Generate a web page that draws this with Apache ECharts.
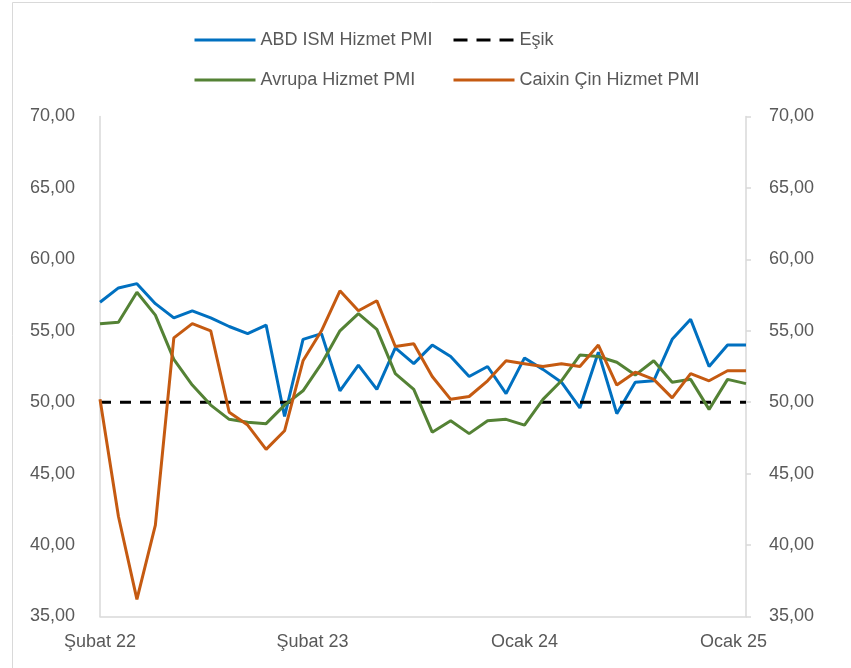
<!DOCTYPE html>
<html>
<head>
<meta charset="utf-8">
<script src="https://cdn.jsdelivr.net/npm/echarts@6/dist/echarts.min.js"></script>
<style>
html,body{margin:0;padding:0;background:#fff;}
#c{width:851px;height:668px;}
</style>
</head>
<body>
<div id="c"></div>
<script>
var categories = ['Şubat 22','Mart 22','Nisan 22','Mayıs 22','Haziran 22','Temmuz 22','Ağustos 22','Eylül 22','Ekim 22','Kasım 22','Aralık 22',
  'Ocak 23','Şubat 23','Mart 23','Nisan 23','Mayıs 23','Haziran 23','Temmuz 23','Ağustos 23','Eylül 23','Ekim 23','Kasım 23','Aralık 23',
  'Ocak 24','Şubat 24','Mart 24','Nisan 24','Mayıs 24','Haziran 24','Temmuz 24','Ağustos 24','Eylül 24','Ekim 24','Kasım 24','Aralık 24','Ocak 25'];
var shownLabels = ['Şubat 22','Şubat 23','Ocak 24','Ocak 25'];
var usIsm = [57.0,58.0,58.3,56.9,55.9,56.4,55.9,55.3,54.8,55.4,49.0,54.4,54.8,50.8,52.6,50.9,53.8,52.7,54.0,53.2,51.8,52.5,50.6,53.1,52.3,51.4,49.6,53.5,49.2,51.4,51.5,54.4,55.8,52.5,54.0,54.0];
var threshold = [50,50,50,50,50,50,50,50,50,50,50,50,50,50,50,50,50,50,50,50,50,50,50,50,50,50,50,50,50,50,50,50,50,50,50,50];
var euro = [55.5,55.6,57.7,56.1,53.0,51.2,49.8,48.8,48.6,48.5,49.8,50.8,52.7,55.0,56.2,55.1,52.0,50.9,47.9,48.7,47.8,48.7,48.8,48.4,50.2,51.5,53.3,53.2,52.8,51.9,52.9,51.4,51.6,49.5,51.6,51.3];
var caixin = [50.2,42.0,36.2,41.4,54.5,55.5,55.0,49.3,48.4,46.7,48.0,52.9,55.0,57.8,56.4,57.1,53.9,54.1,51.8,50.2,50.4,51.5,52.9,52.7,52.5,52.7,52.5,54.0,51.2,52.1,51.6,50.3,52.0,51.5,52.2,52.2];
var names = ['ABD ISM Hizmet PMI','Eşik','Avrupa Hizmet PMI','Caixin Çin Hizmet PMI'];

var FONT = '"Liberation Sans", Arial, sans-serif';
var TXT = '#595959';
var AX = '#D9D9D9';

function fmt(v){ return v.toFixed(2).replace('.', ','); }

function legendAt(name, left, top, dash){
  return {
    data:[name], left:left, top:top, itemWidth:61, itemHeight:14, itemGap:0,
    itemStyle:{opacity:0},
    lineStyle:dash ? {width:3, type:dash} : {width:3},
    textStyle:{fontFamily:FONT, fontSize:18, color:TXT}
  };
}

var chart = echarts.init(document.getElementById('c'), null, {renderer:'canvas'});
chart.setOption({
  animation:false,
  backgroundColor:'#fff',
  graphic:[
    {type:'line', shape:{x1:12.5,y1:2.5,x2:851,y2:2.5}, style:{stroke:AX, lineWidth:1}},
    {type:'line', shape:{x1:12.5,y1:2.5,x2:12.5,y2:668}, style:{stroke:AX, lineWidth:1}}
  ],
  legend:[
    legendAt(names[0],188,26),
    legendAt(names[1],447,26,[14,9]),
    legendAt(names[2],188,66),
    legendAt(names[3],447,66)
  ],
  grid:{left:100, right:105, top:116.5, bottom:51.5, containLabel:false},
  xAxis:{
    type:'category', data:categories, boundaryGap:false,
    axisLine:{show:true, lineStyle:{color:AX, width:1.5}},
    axisTick:{show:false},
    splitLine:{show:false},
    axisLabel:{
      margin:17, fontFamily:FONT, fontSize:18, color:TXT,
      interval:function(i, v){ return shownLabels.indexOf(v) >= 0; },
      formatter:function(v, i){
        if (i === 12) return '{a|' + v + '}';
        if (i === categories.length - 1) return '{b|' + v + '}';
        return v;
      },
      rich:{
        a:{fontFamily:FONT, fontSize:18, color:TXT, padding:[0,18,0,0]},
        b:{fontFamily:FONT, fontSize:18, color:TXT, padding:[0,25,0,0]}
      }
    }
  },
  yAxis:[
    {
      type:'value', position:'left', min:35, max:70, interval:5,
      axisLine:{show:true, lineStyle:{color:AX, width:1.5}},
      axisTick:{show:false},
      splitLine:{show:false},
      axisLabel:{margin:25, fontFamily:FONT, fontSize:18, color:TXT, formatter:fmt}
    },
    {
      type:'value', position:'right', min:35, max:70, interval:5,
      axisLine:{show:true, lineStyle:{color:AX, width:1.5}},
      axisTick:{show:true, inside:false, length:5, lineStyle:{color:AX, width:1.5}},
      splitLine:{show:false},
      axisLabel:{margin:23, fontFamily:FONT, fontSize:18, color:TXT, formatter:fmt}
    }
  ],
  series:[
    {name:names[0], type:'line', data:usIsm, symbol:'none', color:'#0070C0', lineStyle:{color:'#0070C0', width:3}},
    {name:names[1], type:'line', data:threshold, symbol:'none', color:'#000000', lineStyle:{color:'#000000', width:3, type:[11,9]}},
    {name:names[2], type:'line', data:euro, symbol:'none', color:'#548235', lineStyle:{color:'#548235', width:3}},
    {name:names[3], type:'line', data:caixin, symbol:'none', color:'#C55A11', lineStyle:{color:'#C55A11', width:3}}
  ]
});
</script>
</body>
</html>
